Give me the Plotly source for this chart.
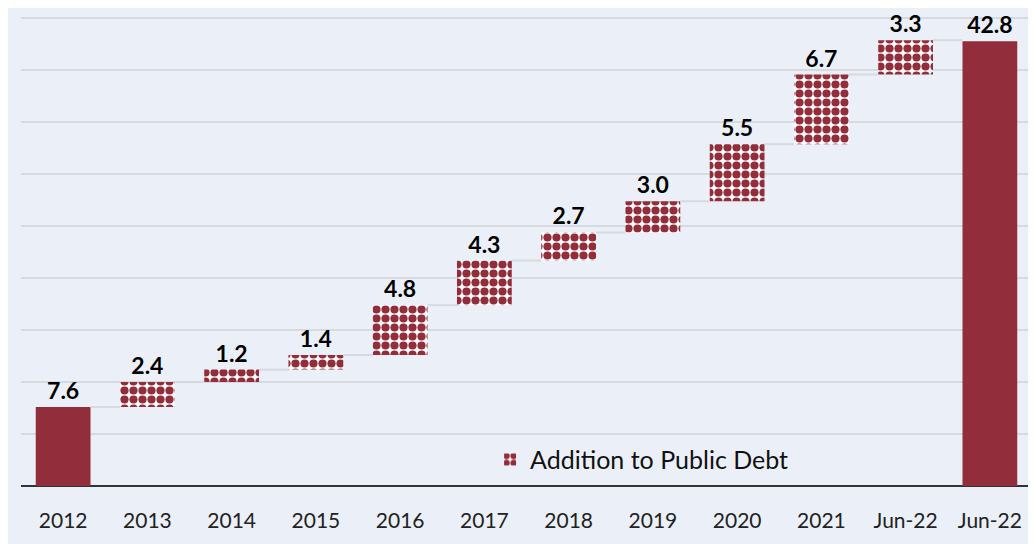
import plotly.graph_objects as go

categories = ["2012", "2013", "2014", "2015", "2016", "2017", "2018", "2019", "2020", "2021", "Jun-22", "Jun-22"]
values = [7.6, 2.4, 1.2, 1.4, 4.8, 4.3, 2.7, 3.0, 5.5, 6.7, 3.3, 42.8]
kinds = ["total"] + ["increase"] * 10 + ["total"]

RED = "#922D3B"
BG = "#EBF0F8"
GRID = "#D6D9DE"

xs = list(range(len(categories)))
bases = []
cum = 0.0
for v, k in zip(values, kinds):
    if k == "total":
        bases.append(0.0)
        cum = v
    else:
        bases.append(cum)
        cum += v
tops = [b + v for b, v in zip(bases, values)]

bw = 0.65
fig = go.Figure()

# connectors
cx, cy = [], []
for i in range(len(xs) - 1):
    cx += [xs[i] + bw / 2, xs[i + 1] - bw / 2, None]
    cy += [tops[i], tops[i], None]
fig.add_trace(go.Scatter(x=cx, y=cy, mode="lines", line=dict(color=GRID, width=2),
                         showlegend=False, hoverinfo="skip"))

tot_idx = [i for i, k in enumerate(kinds) if k == "total"]
inc_idx = [i for i, k in enumerate(kinds) if k == "increase"]

label_font = dict(family="Lato", size=23, color="#000000", weight="bold")

fig.add_trace(go.Bar(
    x=[xs[i] for i in tot_idx], y=[values[i] for i in tot_idx], base=[bases[i] for i in tot_idx],
    width=bw, marker=dict(color=RED, line=dict(width=0)),
    text=[f"{values[i]:.1f}" for i in tot_idx], textposition="outside",
    textfont=label_font, cliponaxis=False, showlegend=False))

fig.add_trace(go.Bar(
    x=[xs[i] for i in inc_idx], y=[values[i] for i in inc_idx], base=[bases[i] for i in inc_idx],
    width=bw, name="Addition to Public Debt",
    marker=dict(color="white", line=dict(width=0),
                pattern=dict(shape=".", fgcolor=RED, bgcolor="white", size=9, solidity=0.65,
                             fillmode="replace")),
    text=[f"{values[i]:.1f}" for i in inc_idx], textposition="outside",
    textfont=label_font, cliponaxis=False, showlegend=True))

fig.update_layout(
    width=1028, height=536,
    margin=dict(l=13, r=4, t=0, b=58),
    paper_bgcolor=BG, plot_bgcolor=BG,
    barmode="overlay",
    font=dict(family="Lato", color="#222222"),
    showlegend=True,
    legend=dict(x=0.464, y=0.055, xanchor="left", yanchor="middle", bgcolor="rgba(0,0,0,0)",
                font=dict(size=25, color="#111111")),
    xaxis=dict(range=[-0.5, 11.5], tickvals=xs, ticktext=categories, showgrid=False,
               zeroline=False, tickfont=dict(size=21, color="#222222"), ticks="", ticklen=0,
               ticklabelstandoff=20),
    yaxis=dict(range=[0, 46.0], dtick=5, showgrid=True, gridcolor=GRID, gridwidth=2,
               showticklabels=False, zeroline=True, zerolinecolor="#333333", zerolinewidth=2),
)

fig.write_html("out.html")
